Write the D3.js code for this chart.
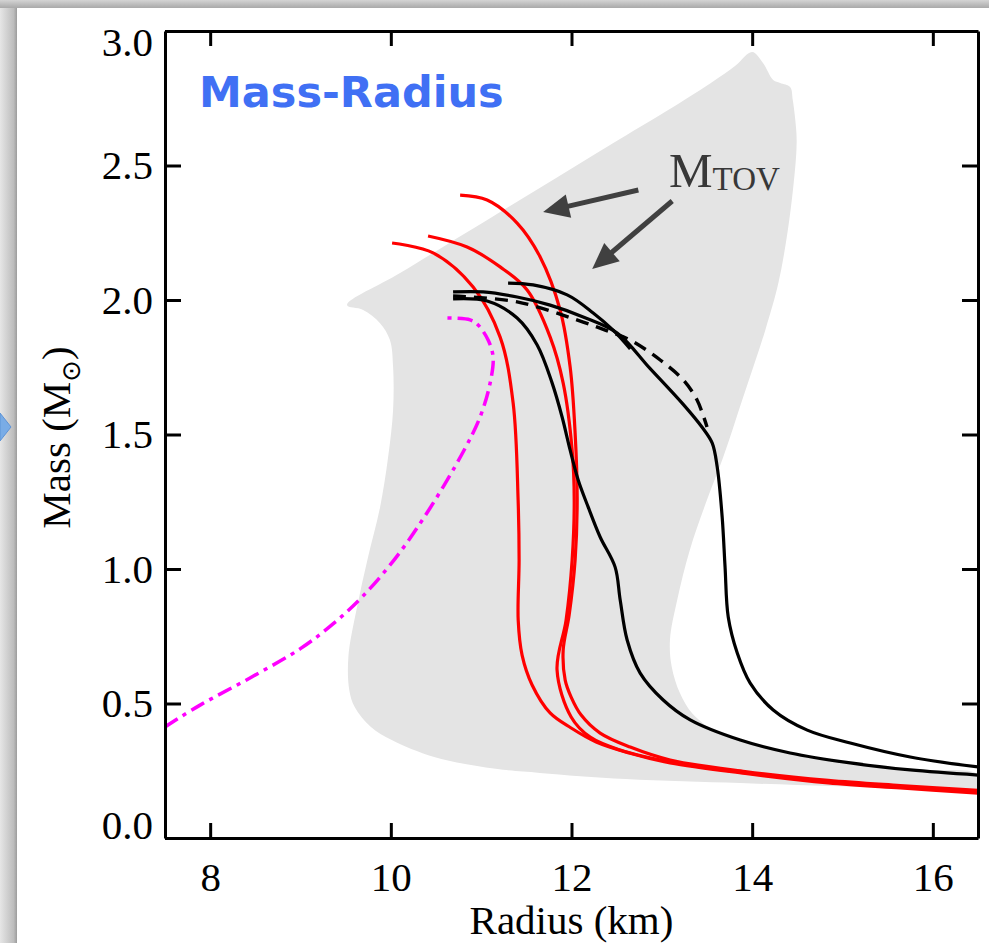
<!DOCTYPE html>
<html><head><meta charset="utf-8">
<script src="https://cdn.jsdelivr.net/npm/d3@7"></script>
<style>body{margin:0;background:#fff;overflow:hidden}</style>
</head><body>
<svg id="c" width="989" height="943"></svg>
<script>
// ---------- data ----------
const xTicks = [8, 10, 12, 14, 16];
const yTicks = [0, 0.5, 1.0, 1.5, 2.0, 2.5, 3.0];

// shaded allowed region (Radius km, Mass Msun), closed outline
const band = [
  [9.515,1.981],[10.102,2.100],[11.21,2.327],[12.317,2.554],[13.425,2.781],[13.81,2.870],[14.0,2.922],
  [14.12,2.881],[14.233,2.818],[14.31,2.807],[14.42,2.792],[14.45,2.743],[14.49,2.621],[14.49,2.558],
  [14.455,2.42],[14.39,2.249],[14.29,2.063],[14.145,1.888],[13.89,1.628],[13.68,1.416],[13.50,1.257],
  [13.31,1.071],[13.17,0.885],[13.09,0.736],[13.11,0.636],[13.20,0.539],[13.34,0.462],[13.60,0.395],
  [13.868,0.364],[14.42,0.316],[15.086,0.279],[15.75,0.253],[16.5,0.236],
  [16.5,0.182],[15.64,0.186],[14.86,0.193],[13.87,0.204],[12.60,0.219],[11.65,0.242],[11.16,0.257],
  [10.48,0.301],[10.01,0.364],[9.78,0.413],[9.60,0.487],[9.54,0.55],[9.53,0.673],[9.626,0.859],
  [9.748,1.045],[9.881,1.230],[9.97,1.416],[10.025,1.591],[10.025,1.751],[9.99,1.851],[9.88,1.914],
  [9.693,1.963]
];

const magenta = [
  [7.5,0.413],[7.888,0.494],[8.441,0.595],[8.995,0.703],[9.36,0.796],[9.693,0.900],
  [10.069,1.048],[10.435,1.227],[10.80,1.435],[10.988,1.565],[11.099,1.691],[11.132,1.788],
  [11.077,1.851],[10.966,1.907],[10.878,1.926],[10.60,1.933]
];

const redA = [
  [10.014,2.212],[10.468,2.175],[10.911,2.048],[11.21,1.862],[11.354,1.617],[11.409,1.257],
  [11.42,1.033],[11.41,0.81],[11.453,0.680],[11.564,0.569],[11.763,0.465],[11.996,0.409],
  [12.273,0.357],[12.638,0.316],[13.092,0.279],[13.923,0.240],[14.842,0.205],[15.64,0.186],[16.5,0.167]
];
const redB = [
  [10.412,2.238],[10.844,2.197],[11.21,2.123],[11.509,2.037],[11.764,1.862],[11.908,1.691],
  [12.007,1.442],[12.03,1.257],[12.007,1.033],[11.94,0.81],[11.84,0.625],[11.996,0.450],
  [12.207,0.375],[12.539,0.327],[13.092,0.283],[13.923,0.243],[14.842,0.209],[15.64,0.190],[16.5,0.171]
];
const redC = [
  [10.767,2.390],[11.066,2.372],[11.398,2.286],[11.653,2.160],[11.874,1.963],[11.985,1.751],
  [12.04,1.506],[12.063,1.257],[12.04,1.033],[11.974,0.829],[11.908,0.699],[11.93,0.587],
  [11.996,0.524],[12.107,0.457],[12.317,0.390],[12.65,0.338],[13.092,0.290],[13.923,0.247],
  [14.842,0.214],[15.64,0.195],[16.5,0.177]
];

const black1 = [
  [10.689,2.004],[11.066,1.996],[11.398,1.933],[11.62,1.833],[11.786,1.691],[11.896,1.565],
  [11.985,1.442],[12.074,1.331],[12.184,1.231],[12.317,1.119],[12.483,1.007],[12.539,0.885],
  [12.616,0.736],[12.76,0.613],[13.015,0.513],[13.314,0.439],[13.868,0.364],[14.42,0.316],
  [15.086,0.279],[15.75,0.253],[16.5,0.234]
];
const black2 = [
  [10.689,2.030],[11.022,2.030],[11.398,2.011],[11.764,1.981],[12.129,1.937],[12.506,1.877],
  [12.871,1.745],[13.237,1.612],[13.45,1.525],[13.558,1.468],[13.613,1.379],[13.668,1.193],[13.70,1.007],
  [13.735,0.822],[13.835,0.688],[13.978,0.576],[14.233,0.476],[14.61,0.401],[15.086,0.353],
  [15.75,0.301],[16.5,0.264]
];
const blackDashed = [
  [10.689,2.015],[11.398,1.993],[12.129,1.918],[12.373,1.888],[12.65,1.851],[12.982,1.777],
  [13.237,1.703],[13.39,1.628],[13.50,1.528]
];
const black4 = [
  [11.298,2.063],[11.575,2.056],[11.952,2.019],[12.24,1.952],[12.461,1.888],[12.65,1.818]
];

// M_TOV annotation arrows: [tailR, tailM, tipR, tipM]
const arrows = [
  [12.74, 2.409, 11.686, 2.327],
  [13.115, 2.368, 12.229, 2.115]
];

// ---------- drawing ----------
const svg = d3.select("#c");
const W = 989, H = 943;
const L = 165, R = 978, T = 31, B = 838;
const x = d3.scaleLinear([7.5, 16.5], [L, R]);
const y = d3.scaleLinear([0, 3], [B, T]);

const defs = svg.append("defs");
const gl = defs.append("linearGradient").attr("id","gl").attr("x1",0).attr("x2",1).attr("y1",0).attr("y2",0);
gl.append("stop").attr("offset","0%").attr("stop-color","#e6e6e6");
gl.append("stop").attr("offset","80%").attr("stop-color","#bdbdbd");
gl.append("stop").attr("offset","100%").attr("stop-color","#9c9c9c");
const gt = defs.append("linearGradient").attr("id","gt").attr("x1",0).attr("x2",0).attr("y1",0).attr("y2",1);
gt.append("stop").attr("offset","0%").attr("stop-color","#d4d4d4");
gt.append("stop").attr("offset","100%").attr("stop-color","#a9a9a9");
defs.append("clipPath").attr("id","plot").append("rect")
  .attr("x", L).attr("y", T).attr("width", R - L).attr("height", B - T);

// slide background / shadow
svg.append("rect").attr("width", W).attr("height", H).attr("fill", "#dedede");
svg.append("rect").attr("x",0).attr("y",0).attr("width",17).attr("height",H).attr("fill","url(#gl)");
svg.append("rect").attr("x",0).attr("y",0).attr("width",W).attr("height",8).attr("fill","url(#gt)");
svg.append("rect").attr("x",17).attr("y",8).attr("width",W-17).attr("height",H-8).attr("fill","#fff");
svg.append("path").attr("d","M0,413L11,427L0,441Z").attr("fill","#79ace6").attr("stroke","#5d93d6").attr("stroke-width",1);

const plot = svg.append("g").attr("clip-path","url(#plot)");
const line = d3.line().x(d => x(d[0])).y(d => y(d[1])).curve(d3.curveCatmullRom.alpha(0.5));
const area = d3.line().x(d => x(d[0])).y(d => y(d[1])).curve(d3.curveCatmullRomClosed.alpha(0.5));

plot.append("path").attr("d", area(band)).attr("fill", "#e4e4e4");

plot.append("path").attr("d", line(magenta)).attr("fill","none")
  .attr("stroke","#ff00ff").attr("stroke-width",3.5).attr("stroke-dasharray","15,6,4,6");

[redA, redB, redC].forEach(s => plot.append("path").attr("d", line(s)).attr("fill","none")
  .attr("stroke","#ff0000").attr("stroke-width",3.2).attr("stroke-linejoin","round"));

[black1, black2, black4].forEach(s => plot.append("path").attr("d", line(s)).attr("fill","none")
  .attr("stroke","#000").attr("stroke-width",3.2).attr("stroke-linejoin","round"));
plot.append("path").attr("d", line(blackDashed)).attr("fill","none")
  .attr("stroke","#000").attr("stroke-width",3.4).attr("stroke-dasharray","13,8");

// axes
const fmt = d3.format(".1f");
const serif = "'Liberation Serif','Times New Roman',serif";
function styleAxis(g) {
  g.select(".domain").attr("stroke","#000").attr("stroke-width",3);
  g.selectAll(".tick line").attr("stroke","#000").attr("stroke-width",3);
  g.selectAll(".tick text").attr("fill","#000").style("font-family", serif).style("font-size","41px");
}
const gx = svg.append("g").attr("transform",`translate(0,${B})`)
  .call(d3.axisBottom(x).tickValues(xTicks).tickSize(-15).tickSizeOuter(0).tickPadding(24).tickFormat(d3.format("d")));
styleAxis(gx);
const gxt = svg.append("g").attr("transform",`translate(0,${T})`)
  .call(d3.axisTop(x).tickValues(xTicks).tickSize(-15).tickSizeOuter(0).tickFormat(""));
styleAxis(gxt);
const gy = svg.append("g").attr("transform",`translate(${L},0)`)
  .call(d3.axisLeft(y).tickValues(yTicks).tickSize(-16).tickSizeOuter(0).tickPadding(12).tickFormat(fmt));
styleAxis(gy);
gy.selectAll(".tick text").attr("transform", d => d === 3 ? "translate(0,11)" : d === 0 ? "translate(0,-13)" : null);
const gyr = svg.append("g").attr("transform",`translate(${R},0)`)
  .call(d3.axisRight(y).tickValues(yTicks).tickSize(-16).tickSizeOuter(0).tickFormat(""));
styleAxis(gyr);

// axis titles
svg.append("text").attr("x", (L + R) / 2).attr("y", 934).attr("text-anchor","middle")
  .style("font-family", serif).style("font-size","41px").attr("fill","#000").text("Radius (km)");
const yt = svg.append("text").attr("transform", `translate(70,${(T + B) / 2 + 3}) rotate(-90)`)
  .attr("text-anchor","middle").style("font-family", serif).style("font-size","41px").attr("fill","#000");
yt.append("tspan").text("Mass (M");
yt.append("tspan").attr("dy", 10).style("font-size","26px").style("font-family","'DejaVu Sans',sans-serif").text("⊙");
yt.append("tspan").attr("dy", -10).text(")");

// panel title
svg.append("text").attr("x", 199).attr("y", 107)
  .style("font-family","'DejaVu Sans',Verdana,sans-serif").style("font-weight","bold").style("font-size","43px")
  .attr("fill","#4070f4").text("Mass-Radius");

// M_TOV label
const mt = svg.append("text").attr("x", 669).attr("y", 187).style("font-family", serif).attr("fill","#383838");
mt.append("tspan").style("font-size","49px").text("M");
mt.append("tspan").attr("dy", 3).style("font-size","33px").text("TOV");

// arrows
arrows.forEach(a => {
  const x0 = x(a[0]), y0 = y(a[1]), x1 = x(a[2]), y1 = y(a[3]);
  const dx = x1 - x0, dy = y1 - y0, len = Math.hypot(dx, dy);
  const ux = dx / len, uy = dy / len, hl = 26, hw = 12;
  const bx = x1 - ux * hl, by = y1 - uy * hl;
  svg.append("line").attr("x1", x0).attr("y1", y0).attr("x2", bx + ux * 2).attr("y2", by + uy * 2)
    .attr("stroke","#404040").attr("stroke-width",5);
  svg.append("path").attr("d", `M${x1},${y1}L${bx - uy * hw},${by + ux * hw}L${bx + uy * hw},${by - ux * hw}Z`)
    .attr("fill","#404040");
});
</script>
</body></html>
